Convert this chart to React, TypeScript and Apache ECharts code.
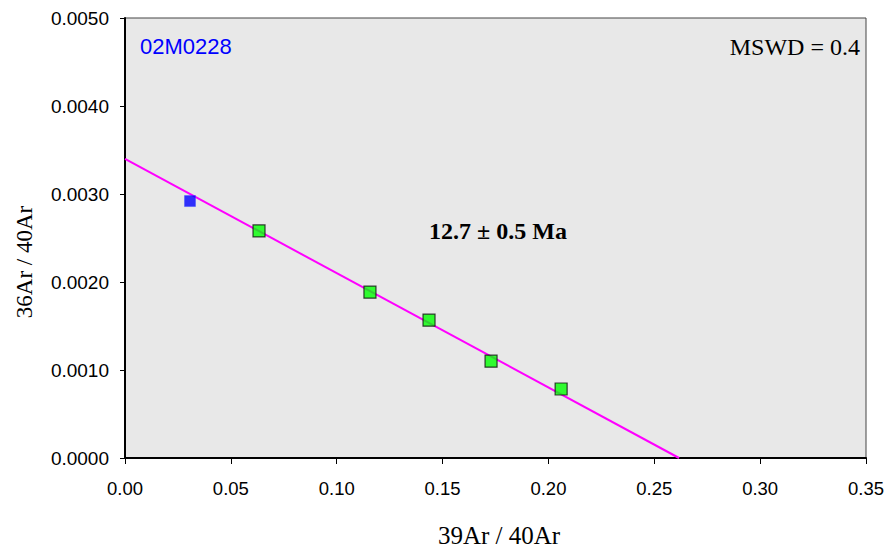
import React, { useEffect, useRef } from "react";
import * as echarts from "echarts";

const xTicks = [0, 0.05, 0.1, 0.15, 0.2, 0.25, 0.3, 0.35];
const yTicks = [0, 0.001, 0.002, 0.003, 0.004, 0.005];
const excludedPoint: [number, number][] = [[0.0307, 0.00292]];
const includedPoints: [number, number][] = [
  [0.0633, 0.00258],
  [0.1157, 0.001885],
  [0.1436, 0.001566],
  [0.1729, 0.0011],
  [0.206, 0.000784],
];
const isochronLine: [number, number][] = [
  [0, 0.0034],
  [0.2617, 0],
];
const sampleLabel = "02M0228";
const mswdLabel = "MSWD = 0.4";
const ageLabel = "12.7 ± 0.5 Ma";
const xAxisTitle = "39Ar / 40Ar";
const yAxisTitle = "36Ar / 40Ar";

export default function App() {
  const ref = useRef<HTMLDivElement>(null);
  useEffect(() => {
    const chart = echarts.init(ref.current!, null, { renderer: "svg" });
    chart.setOption({
      animation: false,
      backgroundColor: "#ffffff",
      grid: {
        left: 125,
        right: 23,
        top: 18,
        bottom: 91,
        show: true,
        backgroundColor: "#e8e8e8",
        borderColor: "#444",
        borderWidth: 1,
      },
      xAxis: {
        type: "value",
        min: xTicks[0],
        max: xTicks[xTicks.length - 1],
        interval: 0.05,
        axisLine: { show: true, onZero: false, lineStyle: { color: "#000", width: 2 } },
        axisTick: { show: true, length: 6, lineStyle: { color: "#000", width: 1 } },
        axisLabel: {
          fontFamily: "Liberation Sans",
          fontSize: 18.5,
          color: "#000",
          margin: 21,
          formatter: (v: number) => v.toFixed(2),
        },
        splitLine: { show: false },
      },
      yAxis: {
        type: "value",
        min: yTicks[0],
        max: yTicks[yTicks.length - 1],
        interval: 0.001,
        axisLine: { show: true, onZero: false, lineStyle: { color: "#000", width: 2 } },
        axisTick: { show: true, length: 5, lineStyle: { color: "#000", width: 1 } },
        axisLabel: {
          fontFamily: "Liberation Sans",
          fontSize: 19,
          color: "#000",
          margin: 16,
          formatter: (v: number) => v.toFixed(4),
        },
        splitLine: { show: false },
      },
      series: [
        {
          type: "line",
          data: isochronLine,
          symbol: "none",
          lineStyle: { color: "#ff00ff", width: 2 },
          z: 2,
        },
        {
          type: "scatter",
          data: excludedPoint,
          symbol: "rect",
          symbolSize: 11,
          itemStyle: { color: "#0000ff", borderColor: "#3344ff", borderWidth: 0.5 },
          z: 3,
        },
        {
          type: "scatter",
          data: includedPoints,
          symbol: "rect",
          symbolSize: 12,
          itemStyle: { color: "#00ff00", borderColor: "#111", borderWidth: 1.2 },
          z: 3,
        },
      ],
      graphic: [
        {
          type: "text",
          x: 140,
          y: 46,
          style: {
            text: sampleLabel,
            fontFamily: "Liberation Sans",
            fontSize: 22,
            fill: "#0000ff",
            verticalAlign: "middle",
          },
        },
        {
          type: "text",
          x: 860,
          y: 47,
          style: {
            text: mswdLabel,
            fontFamily: "Liberation Serif",
            fontSize: 24,
            fill: "#000",
            textAlign: "right",
            verticalAlign: "middle",
          },
        },
        {
          type: "text",
          x: 498,
          y: 231,
          style: {
            text: ageLabel,
            fontFamily: "Liberation Serif",
            fontSize: 24,
            fontWeight: "bold",
            fill: "#000",
            textAlign: "center",
            verticalAlign: "middle",
          },
        },
        {
          type: "text",
          x: 499,
          y: 535,
          style: {
            text: xAxisTitle,
            fontFamily: "Liberation Serif",
            fontSize: 25,
            fill: "#000",
            textAlign: "center",
            verticalAlign: "middle",
          },
        },
        {
          type: "text",
          x: 24,
          y: 262,
          rotation: Math.PI / 2,
          style: {
            text: yAxisTitle,
            fontFamily: "Liberation Serif",
            fontSize: 23,
            fill: "#000",
            textAlign: "center",
            verticalAlign: "middle",
          },
        },
      ],
    });
    return () => chart.dispose();
  }, []);
  return <div ref={ref} style={{ width: 889, height: 549, position: "absolute", left: 0, top: 0 }} />;
}
